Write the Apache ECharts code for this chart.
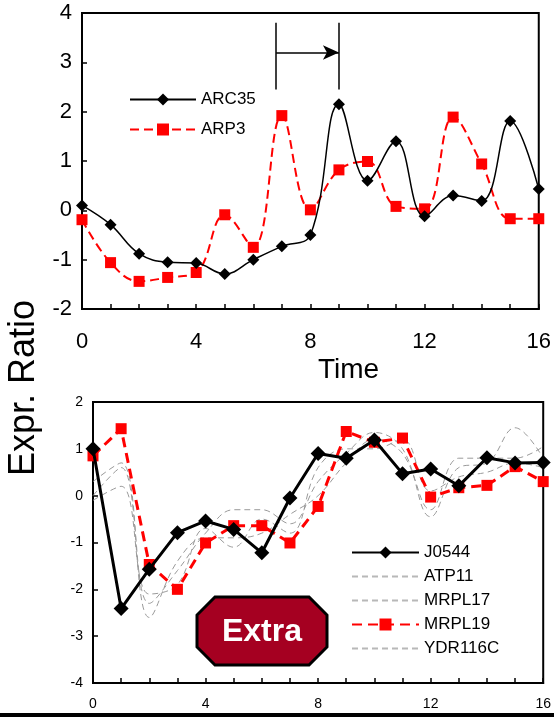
<!DOCTYPE html>
<html>
<head>
<meta charset="utf-8">
<script src="https://cdn.jsdelivr.net/npm/echarts@6/dist/echarts.min.js"></script>
<style>
  html, body { margin: 0; padding: 0; background: #fff; }
  #chart { width: 554px; height: 717px; }
</style>
</head>
<body>
<div id="chart"></div>
<script>
// time points 0..16
const timePoints = [0, 1, 2, 3, 4, 5, 6, 7, 8, 9, 10, 11, 12, 13, 14, 15, 16];
const xTickLabels = [0, 4, 8, 12, 16];

// top panel
const arc35 = [0.1, -0.29, -0.88, -1.05, -1.07, -1.29, -1.0, -0.73, -0.5, 2.15, 0.6, 1.4, -0.12, 0.3, 0.19, 1.81, 0.43];
const arp3 = [-0.19, -1.06, -1.44, -1.36, -1.26, -0.09, -0.75, 1.92, 0.01, 0.82, 0.99, 0.08, 0.03, 1.89, 0.94, -0.17, -0.17];

// bottom panel
const j0544 = [1.0, -2.41, -1.57, -0.79, -0.54, -0.72, -1.22, -0.05, 0.9, 0.8, 1.19, 0.47, 0.57, 0.21, 0.81, 0.7, 0.71];
const mrpl19 = [0.85, 1.43, -1.47, -2.0, -1.01, -0.64, -0.64, -1.01, -0.23, 1.37, 1.14, 1.23, -0.03, 0.17, 0.22, 0.62, 0.3];
const atp11 = [0.3, 0.7, -2.3, -1.6, -0.8, -0.3, -0.3, -0.6, 0.3, 0.9, 1.35, 1.0, -0.45, 0.6, 0.7, 1.45, 0.8];
const mrpl17 = [0.0, 0.6, -2.6, -1.4, -0.9, -0.9, -0.8, -0.4, 0.0, 0.7, 1.2, 0.9, -0.3, 0.8, 0.8, 0.8, 1.05];
const ydr116c = [-0.1, 0.2, -2.1, -1.9, -0.7, -1.1, -0.5, -0.8, 0.6, 1.0, 1.0, 1.2, 0.1, 0.4, 0.5, 0.7, 0.6];

const font = "Liberation Sans, Arial, sans-serif";
const pairs = (vals) => timePoints.map((t, i) => [t, vals[i]]);

const chart = echarts.init(document.getElementById("chart"));

const xAxisBase = (gridIndex, size, margin) => ({
  type: "value",
  gridIndex: gridIndex,
  min: 0,
  max: 16,
  interval: 1,
  axisLine: { onZero: false, lineStyle: { color: "#000", width: 2 } },
  axisTick: { inside: true, length: 5, lineStyle: { color: "#000", width: 1.5 } },
  axisLabel: {
    color: "#000",
    fontFamily: font,
    fontSize: size,
    margin: margin,
    formatter: (v) => (xTickLabels.indexOf(v) >= 0 ? String(v) : ""),
  },
  splitLine: { show: false },
});

const yAxisBase = (gridIndex, min, max, size) => ({
  type: "value",
  gridIndex: gridIndex,
  min: min,
  max: max,
  interval: 1,
  axisLine: { show: true, onZero: false, lineStyle: { color: "#000", width: 2 } },
  axisTick: { show: true, inside: true, length: 5, lineStyle: { color: "#000", width: 1.5 } },
  axisLabel: { color: "#000", fontFamily: font, fontSize: size, margin: 10 },
  splitLine: { show: false },
});

const grayLine = (name, vals) => ({
  name: name,
  type: "line",
  xAxisIndex: 1,
  yAxisIndex: 1,
  data: pairs(vals),
  smooth: 0.4,
  symbol: "none",
  lineStyle: { color: "#9a9a9a", width: 1, type: [6, 4] },
  itemStyle: { color: "#b0b0b0" },
  z: 1,
});

const hiddenIcon = (name) => ({ name: name, itemStyle: { opacity: 0 }, lineStyle: { color: "#b8b8b8" } });

const arrowStyle = { color: "#000", width: 1.5, type: "solid" };

const options = {
  animation: false,
  backgroundColor: "#fff",
  grid: [
    { left: 82, right: 14, top: 13, height: 296, show: true, borderColor: "#000", borderWidth: 2 },
    { left: 93, right: 7, top: 402, height: 281, show: true, borderColor: "#000", borderWidth: 2 },
  ],
  xAxis: [xAxisBase(0, 22, 22), xAxisBase(1, 14, 14)],
  yAxis: [yAxisBase(0, -2, 4, 22), yAxisBase(1, -4, 2, 14)],
  legend: [
    {
      data: ["ARC35", "ARP3"],
      orient: "vertical",
      left: 124,
      top: 86,
      itemWidth: 66,
      itemHeight: 15,
      itemGap: 13,
      textStyle: { fontFamily: font, fontSize: 17, color: "#000" },
      selectedMode: false,
    },
    {
      data: ["J0544", hiddenIcon("ATP11"), hiddenIcon("MRPL17"), "MRPL19", hiddenIcon("YDR116C")],
      orient: "vertical",
      left: 346,
      top: 539,
      itemWidth: 67,
      itemHeight: 15,
      itemGap: 7,
      textStyle: { fontFamily: font, fontSize: 17, color: "#000" },
      selectedMode: false,
    },
  ],
  graphic: [
    {
      type: "text",
      left: 318,
      top: 356,
      style: { text: "Time", fontFamily: font, fontSize: 28, fill: "#000" },
    },
    {
      type: "text",
      x: 6,
      y: 476,
      rotation: Math.PI / 2,
      style: { text: "Expr. Ratio", fontFamily: font, fontSize: 36, fill: "#000" },
    },
    {
      type: "polygon",
      shape: {
        points: [[215, 597], [309, 597], [327, 615], [327, 647], [309, 665], [215, 665], [197, 647], [197, 615]],
      },
      style: { fill: "#a50021", stroke: "#000", lineWidth: 3 },
      z: 10,
    },
    {
      type: "text",
      x: 262,
      y: 632,
      style: {
        text: "Extra",
        fontFamily: font,
        fontWeight: "bold",
        fontSize: 32,
        fill: "#fff",
        align: "center",
        verticalAlign: "middle",
      },
      z: 11,
    },
    {
      type: "rect",
      shape: { x: 0, y: 713, width: 554, height: 4 },
      style: { fill: "#000" },
      z: 12,
    },
  ],
  series: [
    {
      name: "ARC35",
      type: "line",
      xAxisIndex: 0,
      yAxisIndex: 0,
      data: pairs(arc35),
      smooth: 0.4,
      symbol: "diamond",
      symbolSize: 12,
      lineStyle: { color: "#000", width: 1.5 },
      itemStyle: { color: "#000" },
      z: 3,
      markLine: {
        silent: true,
        symbol: "none",
        label: { show: false },
        lineStyle: arrowStyle,
        data: [
          [{ coord: [6.8, 3.8] }, { coord: [6.8, 2.45] }],
          [{ coord: [9, 3.8] }, { coord: [9, 2.45] }],
          [
            { coord: [6.8, 3.2], symbol: "none" },
            { coord: [9, 3.2], symbol: "arrow", symbolSize: [11, 16] },
          ],
        ],
      },
    },
    {
      name: "ARP3",
      type: "line",
      xAxisIndex: 0,
      yAxisIndex: 0,
      data: pairs(arp3),
      smooth: 0.4,
      symbol: "rect",
      symbolSize: 11,
      lineStyle: { color: "#ff0000", width: 2, type: [9, 5] },
      itemStyle: { color: "#ff0000" },
      z: 2,
    },
    grayLine("ATP11", atp11),
    grayLine("MRPL17", mrpl17),
    grayLine("YDR116C", ydr116c),
    {
      name: "MRPL19",
      type: "line",
      xAxisIndex: 1,
      yAxisIndex: 1,
      data: pairs(mrpl19),
      symbol: "rect",
      symbolSize: 11,
      lineStyle: { color: "#ff0000", width: 3, type: [10, 6] },
      itemStyle: { color: "#ff0000" },
      z: 2,
    },
    {
      name: "J0544",
      type: "line",
      xAxisIndex: 1,
      yAxisIndex: 1,
      data: pairs(j0544),
      symbol: "diamond",
      symbolSize: 15,
      lineStyle: { color: "#000", width: 3 },
      itemStyle: { color: "#000" },
      z: 3,
    },
  ],
};

chart.setOption(options);
window.addEventListener("resize", () => chart.resize());
</script>
</body>
</html>
